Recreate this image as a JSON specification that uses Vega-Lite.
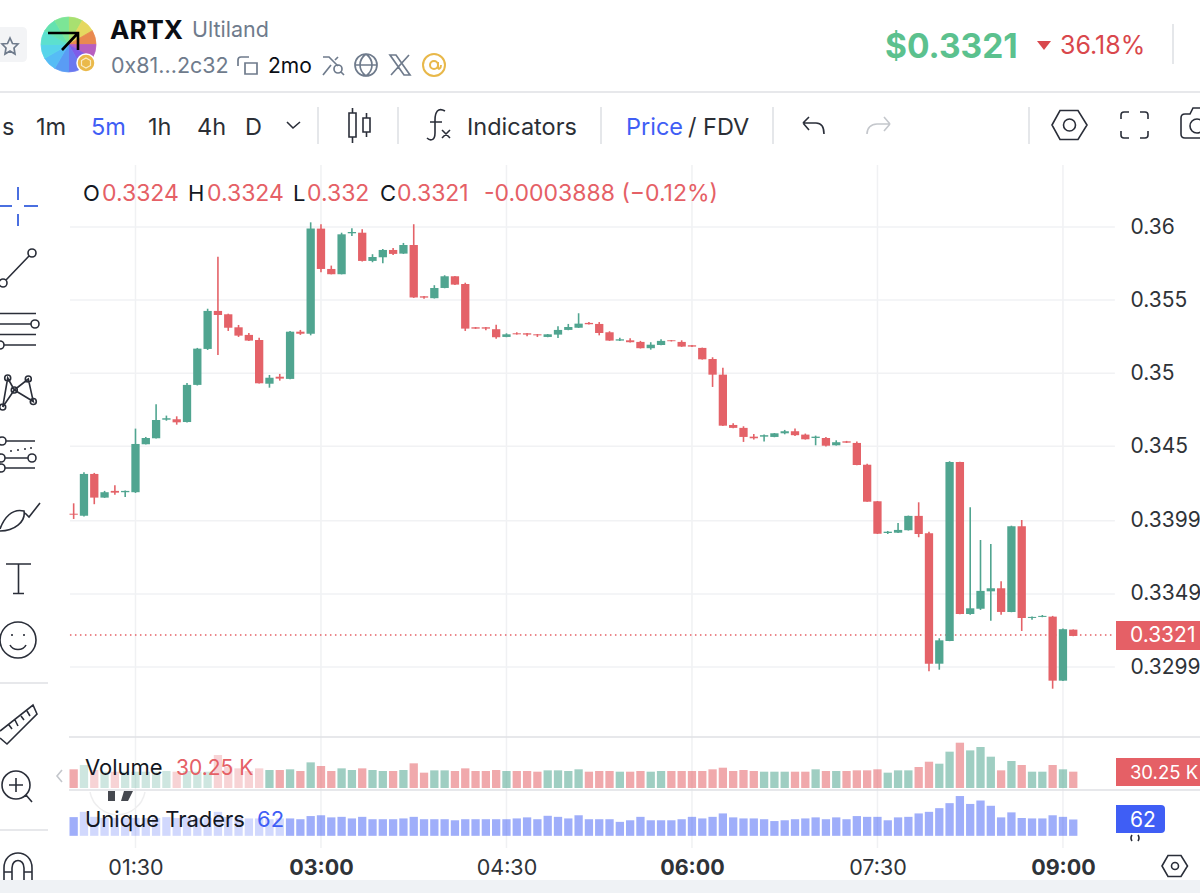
{"$schema":"https://vega.github.io/schema/vega-lite/v6.json","width":1200,"height":893,"autosize":{"type":"none"},"padding":0,"background":"#ffffff","config":{"view":{"stroke":null},"font":"Inter"},
"datasets":{"candles":[
{"minute":60,"open":0.34039,"high":0.3411,"low":0.34003,"close":0.34032,"volume":34600,"traders":71},
{"minute":65,"open":0.34025,"high":0.34322,"low":0.3402,"close":0.34311,"volume":42600,"traders":91},
{"minute":70,"open":0.34311,"high":0.34318,"low":0.34104,"close":0.34149,"volume":33300,"traders":72},
{"minute":75,"open":0.34149,"high":0.34195,"low":0.34147,"close":0.34186,"volume":30200,"traders":68},
{"minute":80,"open":0.34195,"high":0.34234,"low":0.34169,"close":0.34183,"volume":30200,"traders":68},
{"minute":85,"open":0.34186,"high":0.34198,"low":0.34154,"close":0.34195,"volume":30200,"traders":68},
{"minute":90,"open":0.34186,"high":0.34621,"low":0.34181,"close":0.34516,"volume":30200,"traders":68},
{"minute":95,"open":0.34514,"high":0.34564,"low":0.34513,"close":0.34557,"volume":30200,"traders":68},
{"minute":100,"open":0.34555,"high":0.34788,"low":0.34554,"close":0.3468,"volume":30200,"traders":68},
{"minute":105,"open":0.34682,"high":0.3471,"low":0.34675,"close":0.34692,"volume":31500,"traders":71},
{"minute":110,"open":0.34685,"high":0.34705,"low":0.34648,"close":0.34664,"volume":30200,"traders":68},
{"minute":115,"open":0.34666,"high":0.34933,"low":0.34663,"close":0.3492,"volume":31500,"traders":71},
{"minute":120,"open":0.3492,"high":0.35173,"low":0.34916,"close":0.35168,"volume":30200,"traders":68},
{"minute":125,"open":0.35166,"high":0.35441,"low":0.35159,"close":0.35426,"volume":30200,"traders":68},
{"minute":130,"open":0.35426,"high":0.35797,"low":0.35125,"close":0.35398,"volume":61100,"traders":91},
{"minute":135,"open":0.35403,"high":0.35407,"low":0.35289,"close":0.35311,"volume":39500,"traders":72},
{"minute":140,"open":0.35314,"high":0.3533,"low":0.35248,"close":0.35257,"volume":36400,"traders":68},
{"minute":145,"open":0.35262,"high":0.35275,"low":0.35221,"close":0.35223,"volume":31500,"traders":66},
{"minute":150,"open":0.35227,"high":0.35243,"low":0.3493,"close":0.34931,"volume":36400,"traders":66},
{"minute":155,"open":0.34928,"high":0.34988,"low":0.34901,"close":0.34969,"volume":33300,"traders":63},
{"minute":160,"open":0.34976,"high":0.34995,"low":0.34949,"close":0.34963,"volume":33300,"traders":66},
{"minute":165,"open":0.34961,"high":0.35289,"low":0.34958,"close":0.35284,"volume":34600,"traders":66},
{"minute":170,"open":0.35284,"high":0.35296,"low":0.35262,"close":0.3527,"volume":31500,"traders":63},
{"minute":175,"open":0.3527,"high":0.36032,"low":0.35259,"close":0.35989,"volume":47500,"traders":75},
{"minute":180,"open":0.35989,"high":0.36019,"low":0.3569,"close":0.35713,"volume":40700,"traders":78},
{"minute":185,"open":0.35713,"high":0.35736,"low":0.35676,"close":0.35677,"volume":31500,"traders":70},
{"minute":190,"open":0.35677,"high":0.35961,"low":0.35676,"close":0.3595,"volume":36400,"traders":72},
{"minute":195,"open":0.35957,"high":0.35991,"low":0.35939,"close":0.35966,"volume":33300,"traders":66},
{"minute":200,"open":0.35961,"high":0.35985,"low":0.35764,"close":0.35768,"volume":36400,"traders":72},
{"minute":205,"open":0.35768,"high":0.35814,"low":0.35759,"close":0.35795,"volume":33300,"traders":63},
{"minute":210,"open":0.35793,"high":0.3585,"low":0.35752,"close":0.35843,"volume":31500,"traders":63},
{"minute":215,"open":0.35843,"high":0.35857,"low":0.35809,"close":0.35816,"volume":31500,"traders":63},
{"minute":220,"open":0.35818,"high":0.35891,"low":0.35816,"close":0.35877,"volume":33300,"traders":66},
{"minute":225,"open":0.35877,"high":0.36019,"low":0.35515,"close":0.35518,"volume":45700,"traders":72},
{"minute":230,"open":0.35526,"high":0.35528,"low":0.3551,"close":0.35517,"volume":28400,"traders":63},
{"minute":235,"open":0.35513,"high":0.35602,"low":0.35511,"close":0.35583,"volume":32700,"traders":63},
{"minute":240,"open":0.35583,"high":0.3567,"low":0.35581,"close":0.35663,"volume":32700,"traders":63},
{"minute":245,"open":0.35663,"high":0.35665,"low":0.35604,"close":0.35606,"volume":31500,"traders":59},
{"minute":250,"open":0.3561,"high":0.35619,"low":0.35289,"close":0.35305,"volume":36400,"traders":63},
{"minute":255,"open":0.35314,"high":0.35316,"low":0.35303,"close":0.35305,"volume":31500,"traders":63},
{"minute":260,"open":0.35314,"high":0.35316,"low":0.35294,"close":0.35305,"volume":31500,"traders":63},
{"minute":265,"open":0.35301,"high":0.35332,"low":0.35236,"close":0.35246,"volume":33300,"traders":63},
{"minute":270,"open":0.35248,"high":0.35273,"low":0.35246,"close":0.35266,"volume":31500,"traders":63},
{"minute":275,"open":0.35273,"high":0.3528,"low":0.35264,"close":0.35266,"volume":31500,"traders":66},
{"minute":280,"open":0.35273,"high":0.35275,"low":0.35253,"close":0.35264,"volume":31500,"traders":70},
{"minute":285,"open":0.35266,"high":0.35268,"low":0.35248,"close":0.35259,"volume":30200,"traders":63},
{"minute":290,"open":0.35248,"high":0.35268,"low":0.35246,"close":0.35266,"volume":32700,"traders":76},
{"minute":295,"open":0.35264,"high":0.35321,"low":0.35241,"close":0.35296,"volume":32700,"traders":72},
{"minute":300,"open":0.35296,"high":0.35337,"low":0.35294,"close":0.35316,"volume":31500,"traders":66},
{"minute":305,"open":0.35311,"high":0.3541,"low":0.35309,"close":0.35339,"volume":34600,"traders":78},
{"minute":310,"open":0.35344,"high":0.3535,"low":0.35333,"close":0.35335,"volume":30200,"traders":63},
{"minute":315,"open":0.35337,"high":0.3535,"low":0.35259,"close":0.35275,"volume":31500,"traders":63},
{"minute":320,"open":0.3528,"high":0.35287,"low":0.35221,"close":0.35223,"volume":31500,"traders":63},
{"minute":325,"open":0.35223,"high":0.35243,"low":0.35221,"close":0.35232,"volume":30200,"traders":53},
{"minute":330,"open":0.35225,"high":0.35239,"low":0.3521,"close":0.35212,"volume":30200,"traders":59},
{"minute":335,"open":0.35214,"high":0.35221,"low":0.35169,"close":0.35171,"volume":31500,"traders":72},
{"minute":340,"open":0.35171,"high":0.35212,"low":0.35161,"close":0.35195,"volume":30200,"traders":59},
{"minute":345,"open":0.35193,"high":0.35232,"low":0.35191,"close":0.35221,"volume":31500,"traders":59},
{"minute":350,"open":0.35225,"high":0.35227,"low":0.35217,"close":0.35219,"volume":31500,"traders":59},
{"minute":355,"open":0.35214,"high":0.35225,"low":0.3518,"close":0.35182,"volume":31500,"traders":63},
{"minute":360,"open":0.35191,"high":0.35193,"low":0.3518,"close":0.35182,"volume":31500,"traders":72},
{"minute":365,"open":0.35173,"high":0.35175,"low":0.35093,"close":0.35095,"volume":31500,"traders":66},
{"minute":370,"open":0.35097,"high":0.35109,"low":0.34906,"close":0.3499,"volume":34600,"traders":72},
{"minute":375,"open":0.3499,"high":0.35038,"low":0.34639,"close":0.34641,"volume":37600,"traders":85},
{"minute":380,"open":0.34646,"high":0.34658,"low":0.34623,"close":0.34626,"volume":31500,"traders":70},
{"minute":385,"open":0.34626,"high":0.34637,"low":0.3453,"close":0.34564,"volume":33300,"traders":66},
{"minute":390,"open":0.34566,"high":0.34584,"low":0.34546,"close":0.34555,"volume":31500,"traders":66},
{"minute":395,"open":0.34566,"high":0.3458,"low":0.34532,"close":0.34576,"volume":30200,"traders":63},
{"minute":400,"open":0.34564,"high":0.34591,"low":0.34562,"close":0.34589,"volume":30200,"traders":56},
{"minute":405,"open":0.34589,"high":0.34612,"low":0.34582,"close":0.34603,"volume":30200,"traders":59},
{"minute":410,"open":0.34603,"high":0.34622,"low":0.34571,"close":0.34576,"volume":30200,"traders":63},
{"minute":415,"open":0.3458,"high":0.34587,"low":0.34546,"close":0.34548,"volume":30200,"traders":66},
{"minute":420,"open":0.34557,"high":0.34573,"low":0.34507,"close":0.34566,"volume":34600,"traders":70},
{"minute":425,"open":0.34557,"high":0.34564,"low":0.34498,"close":0.34504,"volume":31500,"traders":63},
{"minute":430,"open":0.34507,"high":0.34541,"low":0.34505,"close":0.34528,"volume":31500,"traders":70},
{"minute":435,"open":0.34534,"high":0.34537,"low":0.34523,"close":0.34525,"volume":31500,"traders":63},
{"minute":440,"open":0.34523,"high":0.34532,"low":0.3437,"close":0.34372,"volume":32700,"traders":75},
{"minute":445,"open":0.34374,"high":0.34381,"low":0.3412,"close":0.34121,"volume":32700,"traders":72},
{"minute":450,"open":0.34124,"high":0.34126,"low":0.339,"close":0.33902,"volume":34600,"traders":72},
{"minute":455,"open":0.33907,"high":0.33921,"low":0.339,"close":0.33916,"volume":28400,"traders":59},
{"minute":460,"open":0.33909,"high":0.33976,"low":0.33907,"close":0.33928,"volume":32700,"traders":70},
{"minute":465,"open":0.33926,"high":0.34026,"low":0.33924,"close":0.34024,"volume":32700,"traders":72},
{"minute":470,"open":0.34024,"high":0.34117,"low":0.33878,"close":0.339,"volume":38900,"traders":85},
{"minute":475,"open":0.33905,"high":0.33916,"low":0.32961,"close":0.33013,"volume":48700,"traders":91},
{"minute":480,"open":0.33013,"high":0.33187,"low":0.32972,"close":0.33173,"volume":45000,"traders":105},
{"minute":485,"open":0.33169,"high":0.34398,"low":0.33167,"close":0.34393,"volume":67300,"traders":124},
{"minute":490,"open":0.34393,"high":0.34395,"low":0.33351,"close":0.33353,"volume":83900,"traders":151},
{"minute":495,"open":0.33353,"high":0.34083,"low":0.33348,"close":0.33392,"volume":69700,"traders":121},
{"minute":500,"open":0.33389,"high":0.33859,"low":0.33381,"close":0.33511,"volume":75900,"traders":134},
{"minute":505,"open":0.33508,"high":0.33832,"low":0.33307,"close":0.33529,"volume":58000,"traders":114},
{"minute":510,"open":0.33529,"high":0.33577,"low":0.33348,"close":0.33367,"volume":32700,"traders":70},
{"minute":515,"open":0.33367,"high":0.33957,"low":0.33365,"close":0.33953,"volume":50000,"traders":89},
{"minute":520,"open":0.33953,"high":0.33996,"low":0.33237,"close":0.33326,"volume":42600,"traders":68},
{"minute":525,"open":0.33326,"high":0.33336,"low":0.33314,"close":0.33333,"volume":30200,"traders":66},
{"minute":530,"open":0.33333,"high":0.33346,"low":0.33331,"close":0.3334,"volume":30200,"traders":66},
{"minute":535,"open":0.33335,"high":0.3334,"low":0.32842,"close":0.32897,"volume":42600,"traders":78},
{"minute":540,"open":0.32897,"high":0.33253,"low":0.32895,"close":0.33249,"volume":34600,"traders":72},
{"minute":545,"open":0.33246,"high":0.33247,"low":0.33201,"close":0.33203,"volume":30250,"traders":62}
]},
"resolve":{"scale":{"y":"independent"},"axis":{"x":"independent","y":"independent"}},
"layer":[
{"resolve":{"axis":{"x":"independent","y":"independent"}},"layer":[
{"data":{"values":[{"anchor":"window origin"}]},"encoding":{"x":{"datum":24.26,"type":"quantitative","axis":null},"y":{"datum":0.375527,"type":"quantitative","axis":null}},"layer":[
{"mark":{"type":"point","filled":true,"opacity":1,"size":4,"stroke":null,"fill":"#eff2f5","shape":"M0,880H1200V893H0Z"}},
{"mark":{"type":"point","filled":true,"opacity":1,"size":4,"stroke":null,"fill":"#f3f4f6","shape":"M0,27H22Q27,27 27,32V57Q27,62 22,62H0Z"}}
]},
{"data":{"values":[90,180,270,360,450,540]},"mark":{"type":"rule","color":"#f0f1f3","strokeWidth":1.5},"encoding":{"x":{"field":"data","type":"quantitative","scale":{"domain":[24.26,606.5],"nice":false,"zero":false,"padding":0},"title":null,"axis":{"orient":"bottom","offset":-38,"values":[90,180,270,360,450,540],"labelExpr":"pad(''+floor(datum.value/60),2,'0','left')+':'+pad(''+(datum.value%60),2,'0','left')","grid":false,"domain":false,"ticks":false,"labelPadding":2,"labelFont":"Inter","labelFontSize":21.5,"labelColor":"#2f3338","labelFontWeight":{"condition":{"test":"datum.value%180==0","value":"bold"},"value":"normal"},"labelOverlap":false,"labelFlush":false}},"y":{"datum":0.364241,"type":"quantitative","axis":null},"y2":{"datum":0.317524}}},
{"data":{"values":[0.36,0.355,0.35,0.345,0.3399,0.3349,0.3299]},"mark":{"type":"rule","color":"#f1f2f4","strokeWidth":1.5},"encoding":{"y":{"field":"data","type":"quantitative","title":null,"scale":{"domain":[0.314446,0.375527],"nice":false,"zero":false},"axis":{"orient":"right","offset":-85,"values":[0.36,0.355,0.35,0.345,0.3399,0.3349,0.3299],"format":".4~f","grid":false,"domain":false,"ticks":false,"labelPadding":15,"labelFont":"Inter","labelFontSize":21,"labelColor":"#2f3338","labelOverlap":false,"labelFlush":false}},"x":{"datum":58.2,"type":"quantitative","axis":null},"x2":{"datum":565.2}}},
{"data":{"values":[{"last":0.3321}]},"mark":{"type":"rule","color":"#e56066","strokeWidth":1.5,"strokeDash":[1.5,3.5]},"encoding":{"y":{"field":"last","type":"quantitative","axis":null},"x":{"datum":58.2,"type":"quantitative","axis":null},"x2":{"datum":565.2}}},
{"data":{"values":[{"anchor":"window origin"}]},"encoding":{"x":{"datum":24.26,"type":"quantitative","axis":null},"y":{"datum":0.375527,"type":"quantitative","axis":null}},"layer":[
{"mark":{"type":"point","filled":false,"opacity":1,"size":4,"stroke":"#dfe1e5","strokeWidth":1.6,"shape":"M0,92H1200M318,107V144M398,107V144M601,107V144M773,107V144M1029,107V144M0,683H48M0,830H48M1173,24V64M69,737H1200M69,790H1200"}},
{"mark":{"type":"point","filled":false,"opacity":1,"size":4,"stroke":"#c4c7cc","strokeWidth":1.6,"shape":"M890,124L884,117M890,124L884,131M890,124H877C871,124 867,128 867,134M62,770L57,776L62,782"}},
{"mark":{"type":"point","filled":false,"opacity":1,"size":4,"stroke":"#2a2e39","strokeWidth":1.6,"shape":"M6,280L29,256M-1,283a4,4 0 1,0 8,0a4,4 0 1,0 -8,0M28,253a4,4 0 1,0 8,0a4,4 0 1,0 -8,0M0,313.5H36M0,324H31M0,334.5H36M4,345H36M31,324a4,4 0 1,0 8,0a4,4 0 1,0 -8,0M-4,345a4,4 0 1,0 8,0a4,4 0 1,0 -8,0M2.7,407L7.7,378L14.3,390L28.3,379L33.3,401.5L14.3,390M2.7,407L14.3,390M-.3,407a3,3 0 1,0 6,0a3,3 0 1,0 -6,0M4.7,378a3,3 0 1,0 6,0a3,3 0 1,0 -6,0M11.3,390a3,3 0 1,0 6,0a3,3 0 1,0 -6,0M25.3,379a3,3 0 1,0 6,0a3,3 0 1,0 -6,0M30.3,401.5a3,3 0 1,0 6,0a3,3 0 1,0 -6,0M6,441H35M5,458H28M5,468H35M-2,441a4,4 0 1,0 8,0a4,4 0 1,0 -8,0M28,458a4,4 0 1,0 8,0a4,4 0 1,0 -8,0M-3,458a4,4 0 1,0 8,0a4,4 0 1,0 -8,0M-3,468a4,4 0 1,0 8,0a4,4 0 1,0 -8,0M10,451H12M17,450H19M24,449H26M30,448H32M0,529C4,518 12,508 24,511C26,522 14,531 0,531M25,513L29,517L40,503M6,564H31M18.5,564V593.5M13,593.5H24M0,640a18,18 0 1,0 36,0a18,18 0 1,0 -36,0M12,634V636M24,634V636M10,645C13,651 23,651 26,645M0,731L33,705L37,714L7,744L0,738M9,725L12,729M15,720L18,726M21,716L24,720M27,711L30,716M2,785a14,14 0 1,0 28,0a14,14 0 1,0 -28,0M16,778V792M9,785H23M26,795L32,802M4,880V868C4,848 32,848 32,868V880M12,880V868C12,858 24,858 24,868V880M4,872H12M24,872H32M287,122L293,128L300,122M349,113H356V137H349ZM352.5,108V113M352.5,137V143M363,118H370V132H363ZM366.5,113V118M366.5,132V137M445,111C438,107 435,112 435,120V133C435,141 430,141 427,138M430,122H442M442,130L450,138M450,130L442,138M803,123L809,117M803,123L809,130M803,123H816C821,123 824,127 824,134M1052,125L1060,110.5H1078L1087,125L1078,139.5H1060ZM1063.5,125a6,6 0 1,0 12,0a6,6 0 1,0 -12,0M1121,119V115Q1121,112 1124,112H1129M1140,112H1145Q1148,112 1148,115V119M1148,131V135Q1148,138 1145,138H1140M1129,138H1124Q1121,138 1121,135V131M1210,138H1185Q1181,138 1181,134V118Q1181,114 1185,114H1190L1193,108H1210M1190,126a7,7 0 1,0 14,0a7,7 0 1,0 -14,0M1162,866L1168,855.5H1181L1187.5,866L1181,876.5H1168ZM1171.5,866a3.5,3.5 0 1,0 7,0a3.5,3.5 0 1,0 -7,0M1132,835Q1130,838 1132,841M1138,835Q1140,838 1138,841"}},
{"mark":{"type":"point","filled":false,"opacity":1,"size":4,"stroke":"#6f7b8c","strokeWidth":1.7,"shape":"M10,38L12.5,43.5L18,44L14,48L15,54L10,51L5,54L6,48L2,44L7.5,43.5ZM238,66V60Q238,57 241,57H249M245,63H257V74H245ZM323,57H329L338,66M323,75L331,65M338,57L335,60M334,69a4,4 0 1,0 8,0a4,4 0 1,0 -8,0M341,72L344,75M355,65a11,11 0 1,0 22,0a11,11 0 1,0 -22,0M355,65H377M366,54C358,60 358,70 366,76C374,70 374,60 366,54M390,55H396L410,75H404ZM409,55L391,75"}},
{"mark":{"type":"point","filled":false,"opacity":1,"size":4,"stroke":"#e8b84a","strokeWidth":2,"shape":"M423,65a11,11 0 1,0 22,0a11,11 0 1,0 -22,0M430,65a4,4 0 1,0 8,0a4,4 0 1,0 -8,0M438,62V67C438,70 441,69 441,65"}},
{"mark":{"type":"point","filled":false,"opacity":1,"size":4,"stroke":"#4a6fe0","strokeWidth":2,"shape":"M0,206H12M24,206H38M18,187V200M18,214V226"}}
]},
{"data":{"values":[{"part":1,"hue":"a","share":1},{"part":2,"hue":"b","share":1},{"part":3,"hue":"c","share":1},{"part":4,"hue":"d","share":1},{"part":5,"hue":"e","share":1},{"part":6,"hue":"f","share":1},{"part":7,"hue":"g","share":1},{"part":8,"hue":"h","share":1},{"part":9,"hue":"i","share":1},{"part":10,"hue":"j","share":1},{"part":11,"hue":"k","share":1},{"part":12,"hue":"l","share":1}]},"mark":{"type":"arc","radius":27.5,"strokeWidth":0.8},"encoding":{"x":{"datum":57.5,"type":"quantitative","axis":null},"y":{"datum":0.372483,"type":"quantitative","axis":null},"theta":{"field":"share","type":"quantitative","stack":true},"order":{"field":"part"},"color":{"field":"hue","type":"nominal","legend":null,"scale":{"domain":["a","b","c","d","e","f","g","h","i","j","k","l"],"range":["#a8e070","#e5d860","#e9894f","#b85fc0","#7f5ce8","#6a78f0","#5a9cf4","#56bcf5","#58d4ea","#5ce0cf","#64e2b0","#7ce596"]}},"stroke":{"field":"hue","type":"nominal","legend":null,"scale":{"domain":["a","b","c","d","e","f","g","h","i","j","k","l"],"range":["#a8e070","#e5d860","#e9894f","#b85fc0","#7f5ce8","#6a78f0","#5a9cf4","#56bcf5","#58d4ea","#5ce0cf","#64e2b0","#7ce596"]}}}},
{"data":{"values":[{"anchor":"window origin"}]},"encoding":{"x":{"datum":24.26,"type":"quantitative","axis":null},"y":{"datum":0.375527,"type":"quantitative","axis":null}},"layer":[
{"mark":{"type":"point","filled":false,"opacity":1,"size":4,"stroke":"#000000","strokeWidth":2.6,"shape":"M48,33H78V50M78,33L62,50"}},
{"mark":{"type":"point","filled":true,"opacity":1,"size":4,"fill":"#eab94a","stroke":"#ffffff","strokeWidth":1.5,"shape":"M77,63a9,9 0 1,0 18,0a9,9 0 1,0 -18,0"}},
{"mark":{"type":"point","filled":false,"opacity":1,"size":4,"stroke":"#f9ecc4","strokeWidth":1.2,"shape":"M86,58L90.5,60.5V65.5L86,68L81.5,65.5V60.5Z"}},
{"mark":{"type":"point","filled":false,"opacity":1,"size":4,"stroke":"#eeeeef","strokeWidth":1.4,"shape":"M90,792A28,28 0 0,0 145,792"}},
{"mark":{"type":"point","filled":true,"opacity":1,"size":4,"stroke":null,"fill":"#45484f","shape":"M108,791H115V801H108ZM124,791H133L128,801H121Z"}},
{"mark":{"type":"point","filled":true,"opacity":1,"size":4,"stroke":null,"fill":"#e56066","shape":"M1116,621H1200V650H1116ZM1116,758H1200V786H1116Z"}},
{"mark":{"type":"point","filled":true,"opacity":1,"size":4,"stroke":null,"fill":"#d9474c","shape":"M1037,41H1051L1044,50Z"}},
{"mark":{"type":"point","filled":true,"opacity":1,"size":4,"stroke":null,"fill":"#3f5ef5","shape":"M1116,805H1161Q1165,805 1165,809V829Q1165,833 1161,833H1116Z"}}
]},
{"data":{"name":"candles"},"mark":{"type":"rule","strokeWidth":1.6},"encoding":{"x":{"field":"minute","type":"quantitative","axis":null},"y":{"field":"low","type":"quantitative","axis":null},"y2":{"field":"high"},"color":{"condition":{"test":"datum.close>=datum.open","value":"#50a590"},"value":"#e46268"}}},
{"data":{"name":"candles"},"mark":{"type":"bar","orient":"vertical","width":8.3},"encoding":{"x":{"field":"minute","type":"quantitative","axis":null},"y":{"field":"open","type":"quantitative","axis":null},"y2":{"field":"close"},"color":{"condition":{"test":"datum.close>=datum.open","value":"#50a590"},"value":"#e46268"}}}
]},
{"data":{"name":"candles"},"mark":{"type":"bar","orient":"vertical","width":8.3},"encoding":{"x":{"field":"minute","type":"quantitative","axis":null},"y":{"field":"volume","type":"quantitative","axis":null,"scale":{"domain":[-194600,1460200],"nice":false,"zero":false}},"y2":{"datum":0},"color":{"condition":{"test":"datum.close>=datum.open","value":"#50a590"},"value":"#e46268"},"opacity":{"condition":{"test":"datum.minute>60&&datum.minute<=150","value":0.28},"value":0.55}}},
{"data":{"name":"candles"},"mark":{"type":"bar","orient":"vertical","width":8.3,"color":"#3f5ef5"},"encoding":{"x":{"field":"minute","type":"quantitative","axis":null},"y":{"field":"traders","type":"quantitative","axis":null,"scale":{"domain":[-217,3172],"nice":false,"zero":false}},"y2":{"datum":0},"opacity":{"condition":{"test":"datum.minute>60&&datum.minute<=160","value":0.24},"value":0.5}}},
{"encoding":{"x":{"field":"minute","type":"quantitative","axis":null},"y":{"field":"price","type":"quantitative","axis":null,"scale":{"domain":[0.314446,0.375527],"nice":false,"zero":false}},"text":{"field":"label"}},"layer":[
{"data":{"values":[{"label":"ARTX","minute":77.63,"price":0.37286}]},"mark":{"type":"text","align":"left","baseline":"alphabetic","font":"Inter","fontSize":26,"fontWeight":"bold","color":"#0b0e14"}},
{"data":{"values":[{"label":"Ultiland","minute":117.41,"price":0.373},{"label":"0x81...2c32","minute":78.11,"price":0.37053}]},"mark":{"type":"text","align":"left","baseline":"alphabetic","font":"Inter","fontSize":21.5,"color":"#6f7b8c"}},
{"data":{"values":[{"label":"2mo","minute":154.29,"price":0.37053}]},"mark":{"type":"text","align":"left","baseline":"alphabetic","font":"Inter","fontSize":21,"color":"#0b0e14"}},
{"data":{"values":[{"label":"$0.3321","minute":453.64,"price":0.37156}]},"mark":{"type":"text","align":"left","baseline":"alphabetic","font":"Inter","fontSize":33.5,"fontWeight":"bold","color":"#5bc18e"}},
{"data":{"values":[{"label":"36.18%","minute":538.55,"price":0.37183}]},"mark":{"type":"text","align":"left","baseline":"alphabetic","font":"Inter","fontSize":25,"color":"#d9474c"}},
{"data":{"values":[{"label":"s","minute":25.23,"price":0.36629},{"label":"1m","minute":41.73,"price":0.36629},{"label":"1h","minute":96.07,"price":0.36629},{"label":"4h","minute":119.84,"price":0.36629},{"label":"D","minute":143.13,"price":0.36629},{"label":"Indicators","minute":250.84,"price":0.36629},{"label":"/ FDV","minute":358.06,"price":0.36629}]},"mark":{"type":"text","align":"left","baseline":"alphabetic","font":"Inter","fontSize":23.5,"color":"#2b2f36"}},
{"data":{"values":[{"label":"5m","minute":68.41,"price":0.36629},{"label":"Price","minute":327.99,"price":0.36629}]},"mark":{"type":"text","align":"left","baseline":"alphabetic","font":"Inter","fontSize":23.5,"color":"#3f5ef5"}},
{"data":{"values":[{"label":"O","minute":64.53,"price":0.36178},{"label":"H","minute":115.47,"price":0.36178},{"label":"L","minute":166.42,"price":0.36178},{"label":"C","minute":208.63,"price":0.36178},{"label":"Volume","minute":65.5,"price":0.32252},{"label":"Unique Traders","minute":65.5,"price":0.31896}]},"mark":{"type":"text","align":"left","baseline":"alphabetic","font":"Inter","fontSize":22,"color":"#131722"}},
{"data":{"values":[{"label":"0.3324","minute":73.75,"price":0.36178},{"label":"0.3324","minute":124.69,"price":0.36178},{"label":"0.332","minute":173.21,"price":0.36178},{"label":"0.3321","minute":216.88,"price":0.36178},{"label":"-0.0003888 (−0.12%)","minute":259.09,"price":0.36178}]},"mark":{"type":"text","align":"left","baseline":"alphabetic","font":"Inter","fontSize":23,"color":"#e56066"}},
{"data":{"values":[{"label":"30.25 K","minute":109.65,"price":0.32252}]},"mark":{"type":"text","align":"left","baseline":"alphabetic","font":"Inter","fontSize":21,"color":"#e56066"}},
{"data":{"values":[{"label":"62","minute":148.95,"price":0.31896}]},"mark":{"type":"text","align":"left","baseline":"alphabetic","font":"Inter","fontSize":22,"color":"#3f5ef5"}},
{"data":{"values":[{"label":"0.3321","minute":572.51,"price":0.33161},{"label":"62","minute":572.51,"price":0.31896}]},"mark":{"type":"text","align":"left","baseline":"alphabetic","font":"Inter","fontSize":21,"color":"#ffffff"}},
{"data":{"values":[{"label":"30.25 K","minute":572.51,"price":0.32224}]},"mark":{"type":"text","align":"left","baseline":"alphabetic","font":"Inter","fontSize":18.5,"color":"#ffffff"}}
]}
]}
